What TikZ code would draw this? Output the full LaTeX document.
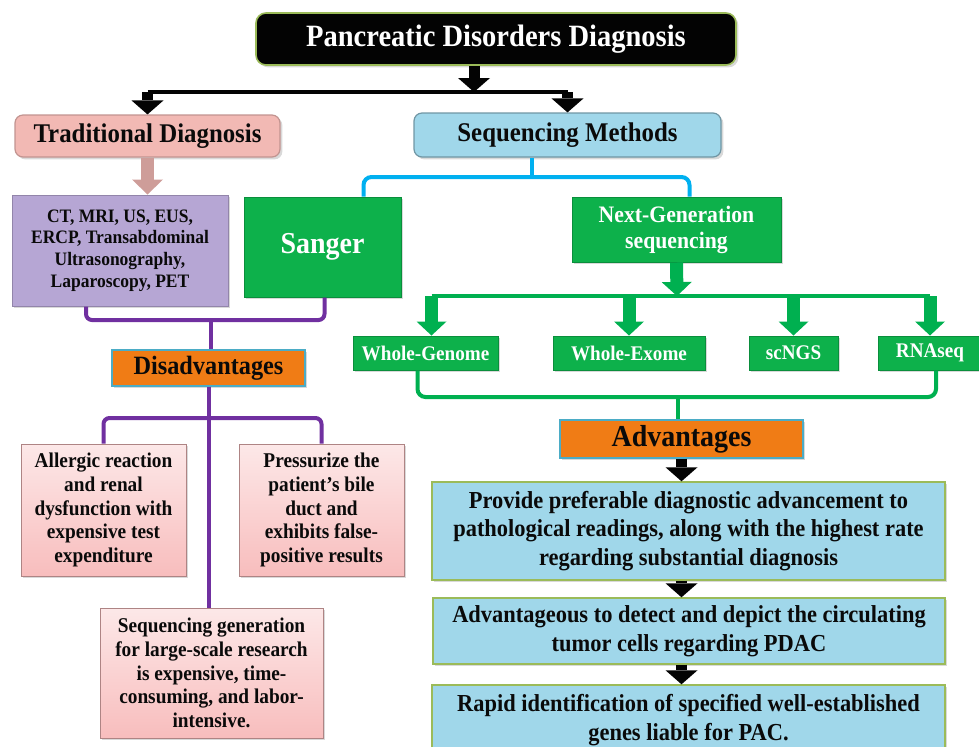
\documentclass[tikz,border=0pt]{standalone}
\usepackage{fontspec}
\setmainfont{Liberation Serif}[FakeStretch=0.92]
\usetikzlibrary{arrows.meta,shadows}
\definecolor{pdink}{HTML}{0A0A0A}
\definecolor{pdblack}{HTML}{030303}
\definecolor{pdrim}{HTML}{9BBB59}
\definecolor{pdrose}{HTML}{F2B9B4}
\definecolor{pdsky}{HTML}{A0D7EA}
\definecolor{pdlilac}{HTML}{B6A6D4}
\definecolor{pdgreen}{HTML}{0DB14B}
\definecolor{pdorange}{HTML}{F07C15}
\definecolor{pdteal}{HTML}{4BACC6}
\definecolor{pdblush}{HTML}{F8BDBD}
\definecolor{pdolive}{HTML}{9BBB59}
\definecolor{pdviolet}{HTML}{7030A0}
\definecolor{pdcyan}{HTML}{00B0F0}
\definecolor{pdleaf}{HTML}{00B050}

\begin{document}
\begin{tikzpicture}[x=0.5pt, y=-0.5pt, text=pdink,
    box/.style={draw, inner sep=0pt, align=center,
      drop shadow={shadow xshift=1.2pt, shadow yshift=-1.2pt, opacity=0.3}},
    headbox/.style={box, rounded corners=5pt, fill=pdblack, draw=pdrim, line width=0.8pt,
      text=white, font=\fontsize{15.5}{17}\selectfont\bfseries},
    branchbox/.style={box, rounded corners=4pt, line width=0.6pt, font=\fontsize{13.5}{15}\selectfont\bfseries},
    methodbox/.style={box, fill=pdgreen, draw=pdgreen!80!black, line width=0.5pt, text=white,
      font=\fontsize{10.4}{12}\selectfont\bfseries},
    labelbox/.style={box, fill=pdorange, draw=pdteal, line width=0.6pt, font=\fontsize{13.2}{15}\selectfont\bfseries},
    conbox/.style={box, top color=pdblush!35!white, bottom color=pdblush, draw=pdblush!70!black,
      line width=0.5pt, font=\fontsize{10.5}{11.8}\selectfont\bfseries},
    probox/.style={box, fill=pdsky, draw=pdolive, line width=0.7pt, font=\fontsize{12.2}{14.3}\selectfont\bfseries},
    darkbar/.style={draw=pdblack, line width=2pt},
    darkarrow/.style={draw=pdblack, line width=5.5pt, -{Triangle[length=7pt, width=16pt, line width=0pt]}},
    rosearrow/.style={draw=pdrose!85!black, line width=6.5pt, -{Triangle[length=7.5pt, width=15.5pt, line width=0pt]}},
    leafarrow/.style={draw=pdleaf, line width=6.5pt, -{Triangle[length=7pt, width=15pt, line width=0pt]}},
    leafbar/.style={draw=pdleaf, line width=2pt},
    leaflink/.style={draw=pdleaf, line width=2pt, rounded corners=4pt},
    cyanlink/.style={draw=pdcyan, line width=2pt, rounded corners=4pt},
    violetlink/.style={draw=pdviolet, line width=2pt, rounded corners=3pt},
  ]
  \useasboundingbox (0,0) rectangle (979,746);

  % top of the tree
  \node[headbox, minimum width=240pt, minimum height=26pt] (title) at (496,39) {Pancreatic Disorders Diagnosis};
  \node[branchbox, fill=pdrose, draw=pdrose!80!black, minimum width=132.5pt, minimum height=21pt] (trad) at (147.5,136) {Traditional Diagnosis};
  \node[branchbox, fill=pdsky, draw=pdsky!70!black, minimum width=153.5pt, minimum height=22pt] (seq) at (567.5,135) {Sequencing Methods};

  % traditional side
  \node[box, fill=pdlilac, draw=pdlilac!80!black, line width=0.5pt, minimum width=108pt, minimum height=55.5pt,
    font=\fontsize{9.5}{10.8}\selectfont\bfseries] (tests) at (120,250.5)
    {CT, MRI, US, EUS,\\ERCP, Transabdominal\\Ultrasonography,\\Laparoscopy, PET};

  % sequencing side
  \node[methodbox, minimum width=78.5pt, minimum height=50pt, font=\fontsize{15.2}{17}\selectfont\bfseries] (sanger) at (322.5,247) {Sanger};
  \node[methodbox, minimum width=104.5pt, minimum height=32.5pt, font=\fontsize{11.8}{13}\selectfont\bfseries] (ngs) at (676.5,229.5) {Next-Generation\\sequencing};
  \node[methodbox, minimum width=72.5pt, minimum height=17pt] (wg) at (425.5,353) {Whole-Genome};
  \node[methodbox, minimum width=76pt, minimum height=17pt] (we) at (629,353) {Whole-Exome};
  \node[methodbox, minimum width=44.5pt, minimum height=17pt] (sc) at (793.5,353) {scNGS};
  \node[methodbox, minimum width=52pt, minimum height=17pt] (rna) at (930,353) {RNAseq};

  % drawbacks
  \node[labelbox, minimum width=96.5pt, minimum height=18pt] (dis) at (208.5,368) {Disadvantages};
  \node[conbox, minimum width=82.5pt, minimum height=66pt] (allergy) at (103.5,510)
    {Allergic reaction\\and renal\\dysfunction with\\expensive test\\expenditure};
  \node[conbox, minimum width=82.5pt, minimum height=66pt] (bile) at (321.5,510)
    {Pressurize the\\patient’s bile\\duct and\\exhibits false-\\positive results};
  \node[conbox, minimum width=111.5pt, minimum height=65pt] (cost) at (211.5,673)
    {Sequencing generation\\for large-scale research\\is expensive, time-\\consuming, and labor-\\intensive.};

  % benefits
  \node[labelbox, minimum width=121.5pt, minimum height=19pt, font=\fontsize{15.2}{17}\selectfont\bfseries] (adv) at (681.5,439) {Advantages};
  \node[probox, minimum width=256.5pt, minimum height=49pt] (pro1) at (688.5,531)
    {Provide preferable diagnostic advancement to\\pathological readings, along with the highest rate\\regarding substantial diagnosis};
  \node[probox, minimum width=256pt, minimum height=33pt] (pro2) at (689,631)
    {Advantageous to detect and depict the circulating\\tumor cells regarding PDAC};
  \node[probox, minimum width=256.5pt, minimum height=35pt] (pro3) at (688.5,720)
    {Rapid identification of specified well-established\\genes liable for PAC.};

  % split under the title
  \coordinate (topsplit) at (474,92);
  \draw[darkbar] (trad.north |- topsplit) -- (seq.north |- topsplit);
  \draw[darkarrow] (title.south -| topsplit) -- (topsplit);
  \draw[darkarrow] (trad.north |- topsplit) -- (trad.north);
  \draw[darkarrow] (seq.north |- topsplit) -- (seq.north);
  \draw[rosearrow] (trad.south) -- (trad.south |- tests.north);

  % sequencing methods
  \coordinate (seqsplit) at (532,177);
  \draw[cyanlink] (seq.south -| seqsplit) -- (seqsplit);
  \draw[cyanlink] ([xshift=20.5pt]sanger.north) |- (seqsplit) -| ([xshift=6.5pt]ngs.north);

  % next-generation branches
  \coordinate (ngssplit) at (677,296);
  \draw[leafbar] ([xshift=3pt]wg.north |- ngssplit) -- (rna.north |- ngssplit);
  \draw[leafarrow] (ngs.south) -- (ngssplit);
  \draw[leafarrow] ([xshift=3pt]wg.north |- ngssplit) -- ([xshift=3pt]wg.north);
  \foreach \n in {we,sc,rna} {
    \draw[leafarrow] (\n.north |- ngssplit) -- (\n.north);
  }
  \coordinate (advsplit) at (678,397);
  \draw[leaflink] ([xshift=-4pt]wg.south) |- (advsplit) -| ([xshift=3pt]rna.south);
  \draw[leaflink] (advsplit) -- (adv.north -| advsplit);

  % advantages chain
  \draw[darkarrow] (adv.south) -- (adv.south |- pro1.north);
  \draw[darkarrow] (pro1.south -| adv.south) -- (pro2.north -| adv.south);
  \draw[darkarrow] (pro2.south -| adv.south) -- (pro3.north -| adv.south);

  % disadvantages
  \coordinate (dissplit) at (211,320);
  \draw[violetlink] ([xshift=-17pt]tests.south) |- (dissplit) -| ([xshift=1pt]sanger.south);
  \draw[violetlink] (dissplit) -- (dis.north -| dissplit);
  \coordinate (consplit) at (210,418);
  \draw[violetlink] (dis.south) -- (dis.south |- cost.north);
  \draw[violetlink] (allergy.north) |- (consplit) -| (bile.north);
\end{tikzpicture}
\end{document}
